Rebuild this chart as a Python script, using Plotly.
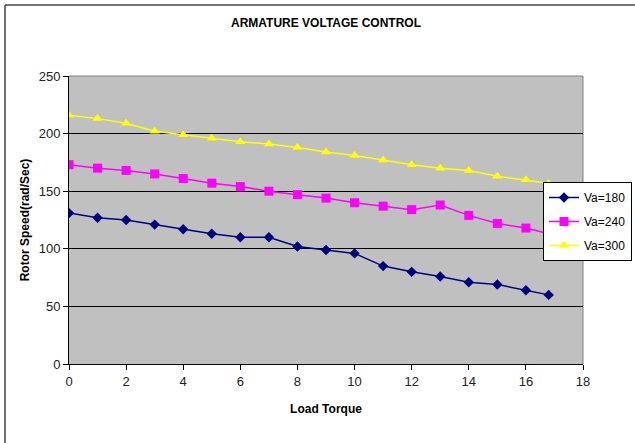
import plotly.graph_objects as go

load_torque = [0, 1, 2, 3, 4, 5, 6, 7, 8, 9, 10, 11, 12, 13, 14, 15, 16, 16.8]
va180 = [131, 127, 125, 121, 117, 113, 110, 110, 102, 99, 96, 85, 80, 76, 71, 69, 64, 60]
va240 = [173, 170, 168, 165, 161, 157, 154, 150, 147, 144, 140, 137, 134, 138, 129, 122, 118, 113]
va300 = [216, 213, 209, 202, 199, 196, 193, 191, 188, 184, 181, 177, 173, 170, 168, 163, 160, 157]
series_names = ["Va=180", "Va=240", "Va=300"]
x_ticks = [0, 2, 4, 6, 8, 10, 12, 14, 16, 18]
y_ticks = [0, 50, 100, 150, 200, 250]

FONT = "Liberation Sans, Arial, sans-serif"

fig = go.Figure()
styles = [
    dict(color="#000080", symbol="diamond", size=8),
    dict(color="#FF00FF", symbol="square", size=9),
    dict(color="#FFFF00", symbol="triangle-up", size=9),
]
for name, vals, st in zip(series_names, [va180, va240, va300], styles):
    fig.add_trace(go.Scatter(
        x=load_torque, y=vals, name=name, mode="lines+markers",
        line=dict(color=st["color"], width=1.5),
        marker=dict(color=st["color"], symbol=st["symbol"], size=st["size"],
                    line=dict(width=0)),
        legendgroup=name,
    ))

L, R, T, B = 69, 52, 76, 79
W, H = 635, 443
pw, ph = W - L - R, H - T - B

def px(x):
    return (x - L) / pw

def py(y):
    return (H - B - y) / ph

fig.update_layout(
    width=W, height=H,
    margin=dict(l=L, r=R, t=T, b=B, autoexpand=False),
    paper_bgcolor="white",
    plot_bgcolor="#C0C0C0",
    title=dict(text="<b>ARMATURE VOLTAGE CONTROL</b>", x=(326 - L) / pw, xref="paper",
               y=1 - 23 / H, yref="container", yanchor="middle", xanchor="center",
               font=dict(family=FONT, size=12, color="#000")),
    showlegend=True,
    legend=dict(x=px(543), y=py(182), xanchor="left", yanchor="top",
                bgcolor="white", bordercolor="black", borderwidth=1,
                font=dict(family=FONT, size=12, color="#000"),
                traceorder="grouped", tracegroupgap=5,
                itemwidth=30),
    xaxis=dict(range=[0, 18], tickvals=x_ticks, ticks="outside", ticklen=5,
               tickcolor="black", showline=True, linecolor="black", linewidth=1,
               showgrid=False, zeroline=False, automargin=False,
               tickfont=dict(family=FONT, size=13, color="#222"),
               title=dict(text="<b>Load Torque</b>", standoff=17,
                          font=dict(family=FONT, size=12, color="#000"))),
    yaxis=dict(range=[0, 250], tickvals=y_ticks, ticks="outside", ticklen=5,
               tickcolor="black", showline=True, linecolor="black", linewidth=1,
               showgrid=True, gridcolor="black", gridwidth=1, zeroline=False,
               automargin=False,
               tickfont=dict(family=FONT, size=13, color="#222"),
               title=dict(text="<b>Rotor Speed(rad/Sec)</b>", standoff=6,
                          font=dict(family=FONT, size=12, color="#000"))),
    shapes=[
        dict(type="line", xref="paper", yref="paper", x0=0, x1=1, y0=1, y1=1,
             line=dict(color="#808080", width=1), layer="above"),
        dict(type="line", xref="paper", yref="paper", x0=1, x1=1, y0=0, y1=1,
             line=dict(color="#808080", width=1), layer="below"),
        dict(type="line", xref="paper", yref="paper", x0=px(5), x1=px(W + 5), y0=py(5), y1=py(5),
             line=dict(color="#444", width=1.5)),
        dict(type="line", xref="paper", yref="paper", x0=px(5), x1=px(5), y0=py(5), y1=py(H + 5),
             line=dict(color="#444", width=1.5)),
    ],
)

fig.write_html("out.html", config={"displayModeBar": False},
               post_script="document.body.style.margin='0px';document.body.style.overflow='hidden';")
